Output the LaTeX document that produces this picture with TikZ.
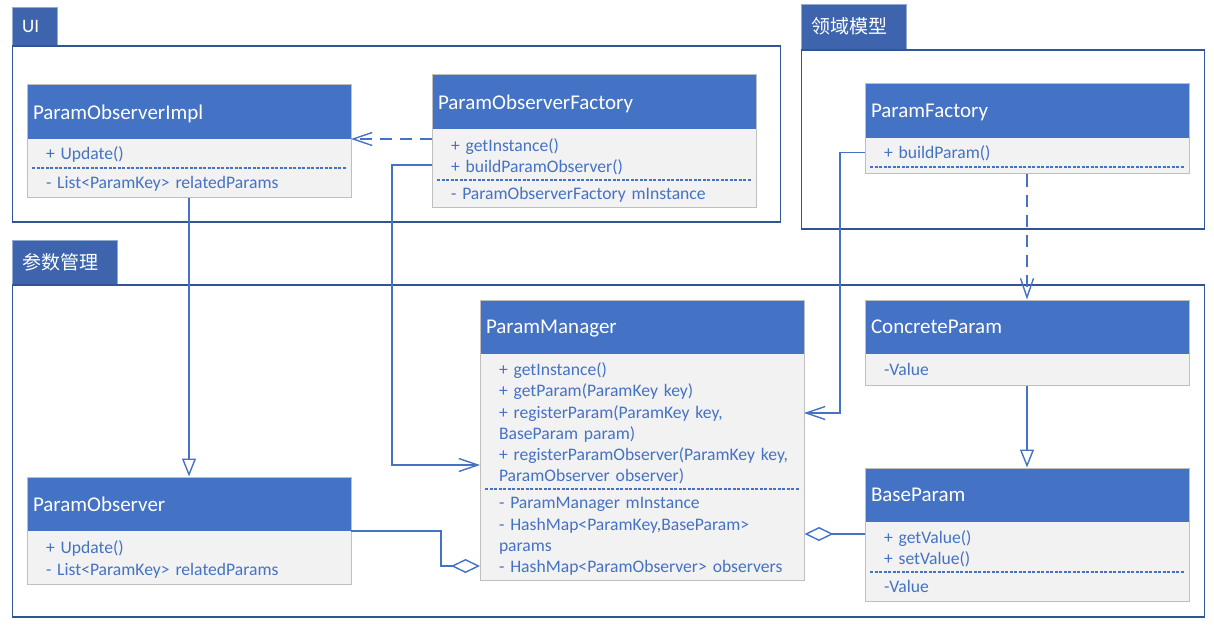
\documentclass[tikz,border=0pt]{standalone}
\usepackage{fontspec}
\setmainfont{Carlito}
\newfontfamily\cjk{Noto Sans CJK SC}
\usetikzlibrary{arrows.meta,positioning,fit}
\definecolor{umlblue}{HTML}{4472C4}
\definecolor{umlgray}{HTML}{F2F2F2}
\definecolor{umlline}{HTML}{BFBFBF}
\definecolor{pkgline}{HTML}{2F5597}
\definecolor{tabblue}{HTML}{3D64AC}

\begin{document}
\begin{tikzpicture}[x=1pt, y=-1pt, node distance=0pt,
      pkgtab/.style={fill=tabblue, draw=tabblue!55!white, anchor=north west, text=white,
                     inner xsep=10pt, align=left, font=\fontsize{19}{22}\selectfont},
      pkgbody/.style={draw=pkgline, line width=1.2pt, anchor=north west},
      hdr/.style={fill=umlblue, text=white, anchor=north west, text width=312pt, inner xsep=6pt,
                  outer sep=0pt, minimum height=54pt, align=left, font=\fontsize{21}{25}\selectfont,
                  execute at end node={\endgraf\vspace{-4pt}}},
      ops/.style={fill=umlgray, text=umlblue, text width=312pt, inner xsep=6pt, inner ysep=2pt,
                  outer sep=0pt, align=left, font=\fontsize{17.6}{21.3}\selectfont,
                  execute at begin node={\leftskip=13pt}, execute at end node={\endgraf\vspace{-4pt}}},
      clsbox/.style={draw=umlline, line width=1pt, inner sep=0pt},
      divider/.style={umlblue, line width=1.2pt, dash pattern=on 3pt off 1.5pt},
      link/.style={umlblue, line width=1.4pt},
      nav/.style={link, -{Straight Barb[length=19pt, width=13pt]}},
      dep/.style={nav, dash pattern=on 12pt off 8pt},
      gen/.style={link, -{Triangle[open, length=18pt, width=14pt]}},
      agg/.style={link, {Diamond[open, length=29pt, width=14pt]}-}]
    \useasboundingbox (0,0) rectangle (1214,631);

    % packages
    \node[pkgtab, text width=25pt, minimum height=38pt] (uitab) at (12,7) {UI};
    \node[pkgbody, minimum width=768pt, minimum height=176pt] (ui) at (uitab.south west) {};
    \node[pkgtab, text width=85pt, minimum height=45pt] (domtab) at (801,4) {\cjk 领域模型};
    \node[pkgbody, minimum width=403pt, minimum height=179pt] (dom) at (domtab.south west) {};
    \node[pkgtab, text width=85pt, minimum height=44pt] (mgmttab) at (12,240) {\cjk 参数管理};
    \node[pkgbody, minimum width=1192pt, minimum height=332pt] (mgmt) at (mgmttab.south west) {};

    % UI classes
    \node[hdr] (implhdr) at (27,85) {ParamObserverImpl};
    \node[ops, below=of implhdr, minimum height=29pt] (implops) {+ Update()};
    \node[ops, below=of implops, minimum height=29pt] (implattrs) {- List<ParamKey> relatedParams};
    \node[clsbox, fit=(implhdr)(implattrs)] (impl) {};
    \draw[divider] ([xshift=5pt]implops.south west) -- ([xshift=-5pt]implops.south east);

    \node[hdr] (fachdr) at (432,75) {ParamObserverFactory};
    \node[ops, below=of fachdr, minimum height=51pt] (facops) {+ getInstance()\\+ buildParamObserver()};
    \node[ops, below=of facops, minimum height=27pt] (facattrs) {- ParamObserverFactory mInstance};
    \node[clsbox, fit=(fachdr)(facattrs)] (fac) {};
    \draw[divider] ([xshift=5pt]facops.south west) -- ([xshift=-5pt]facops.south east);

    % domain model
    \node[hdr] (pfhdr) at (865,84) {ParamFactory};
    \node[ops, below=of pfhdr, minimum height=29pt] (pfops) {+ buildParam()};
    \node[ops, below=of pfops, minimum height=7pt, inner ysep=0pt] (pfattrs) {};
    \node[clsbox, fit=(pfhdr)(pfattrs)] (pf) {};
    \draw[divider] ([xshift=5pt]pfops.south west) -- ([xshift=-5pt]pfops.south east);

    % parameter management
    \node[hdr] (mgrhdr) at (480,300) {ParamManager};
    \node[ops, below=of mgrhdr, minimum height=135pt] (mgrops) {+ getInstance()\\+ getParam(ParamKey key)\\+ registerParam(ParamKey key,\\BaseParam param)\\+ registerParamObserver(ParamKey key,\\ParamObserver observer)};
    \node[ops, below=of mgrops, minimum height=91pt] (mgrattrs) {- ParamManager mInstance\\- HashMap<ParamKey,BaseParam>\\params\\- HashMap<ParamObserver> observers};
    \node[clsbox, fit=(mgrhdr)(mgrattrs)] (mgr) {};
    \draw[divider] ([xshift=5pt]mgrops.south west) -- ([xshift=-5pt]mgrops.south east);

    \node[hdr] (cphdr) at (865,300) {ConcreteParam};
    \node[ops, below=of cphdr, minimum height=31pt] (cpops) {-Value};
    \node[clsbox, fit=(cphdr)(cpops)] (cp) {};

    \node[hdr] (bphdr) at (865,468) {BaseParam};
    \node[ops, below=of bphdr, minimum height=50pt] (bpops) {+ getValue()\\+ setValue()};
    \node[ops, below=of bpops, minimum height=29pt] (bpattrs) {-Value};
    \node[clsbox, fit=(bphdr)(bpattrs)] (bp) {};
    \draw[divider] ([xshift=5pt]bpops.south west) -- ([xshift=-5pt]bpops.south east);

    \node[hdr] (obshdr) at (27,477) {ParamObserver};
    \node[ops, below=of obshdr, minimum height=53pt] (obsops) {+ Update()\\- List<ParamKey> relatedParams};
    \node[clsbox, fit=(obshdr)(obsops)] (obs) {};

    % connectors
    \draw[dep] (implhdr.south east -| facops.west) -- (implhdr.south east);
    \draw[nav] ([yshift=-10.5pt]facops.west) -- ++(-40,0) |- ([yshift=-43.5pt]mgrops.west);
    \draw[gen] (impl.south) -- (obs.north);
    \draw[nav] (pfops.west) -- ++(-25,0) |- ([yshift=8.5pt]mgrops.east);
    \draw[dep] (pf.south) -- (cp.north);
    \draw[gen] (cp.south) -- (bp.north);
    \coordinate (bplink) at ([yshift=13pt]bpops.west);
    \draw[agg] (mgr.east |- bplink) -- (bplink);
    \coordinate (obslink) at ([yshift=-31.5pt]mgrattrs.west);
    \draw[link, -{Diamond[open, length=29pt, width=14pt]}] (obshdr.south east) -- ++(90,0) |- (obslink);
  \end{tikzpicture}
\end{document}
